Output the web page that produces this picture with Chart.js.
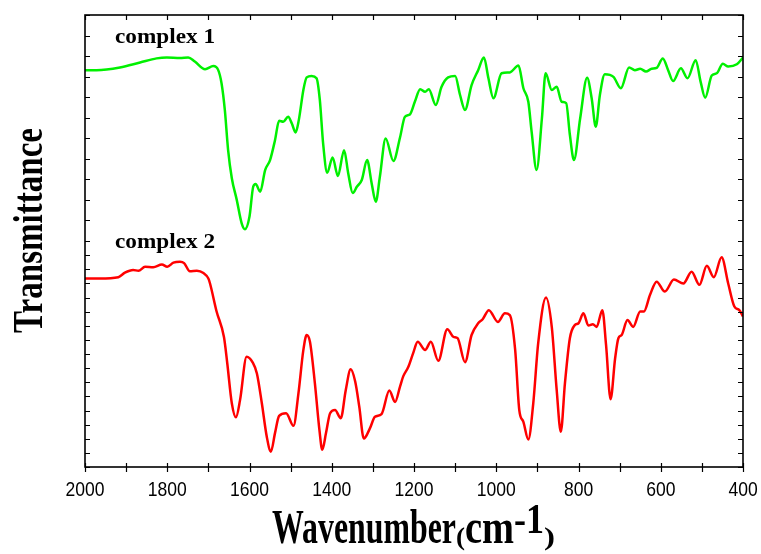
<!DOCTYPE html>
<html><head><meta charset="utf-8">
<script src="https://cdn.jsdelivr.net/npm/chart.js@4.4.1/dist/chart.umd.min.js"></script>
<style>html,body{margin:0;padding:0;background:#fff}#wrap{width:761px;height:554px;position:relative}</style>
</head><body><div id="wrap"><canvas id="c" width="761" height="554"></canvas></div>
<script>
// ---------- data ----------
const seriesNames = ['complex 1', 'complex 2'];

const wnComplex1 = [2000,1972,1915,1866,1826,1801,1769,1749,1733,1708,1688,1676,1668,1660,1652,1643,1631,1619,1611,1600,
  1591,1585,1574,1562,1550,1538,1528,1518,1506,1497,1488,1480,1469,1461,1449,1437,1429,1421,1411,1398,
  1385,1370,1360,1349,1339,1327,1314,1303,1293,1283,1269,1250,1234,1222,1210,1198,1185,1173,1164,1147,
  1133,1117,1100,1088,1076,1060,1044,1030,1019,1007,987,967,946,934,922,914,902,889,880,865,
  853,841,830,821,811,796,779,768,758,748,736,715,697,677,663,650,636,622,610,595,
  582,570,551,535,515,503,492,476,464,449,436,415,400];
const tComplex1 = [87.8,87.8,88.4,89.5,90.4,90.6,90.5,90.6,89.7,88.0,88.7,87.8,84.9,79.0,70.1,63.9,59.1,53.9,52.6,55.4,
  62.0,62.6,60.9,65.7,67.9,72.3,76.6,76.4,77.5,76.0,74.0,76.8,83.4,86.2,86.5,86.0,81.2,71.6,65.1,68.5,
  64.4,70.1,65.0,60.6,62.0,63.5,67.9,62.8,58.7,64.2,72.7,67.7,72.9,77.5,78.0,80.8,83.6,83.0,83.6,80.1,
  84.1,86.2,86.5,82.3,79.0,84.5,87.8,90.6,86.0,81.6,87.1,87.3,88.8,83.8,80.8,74.2,65.7,77.1,87.1,83.4,
  84.1,80.8,80.5,73.5,67.9,77.1,86.1,81.6,75.3,82.3,86.9,86.3,83.8,88.4,87.8,88.1,87.5,88.1,88.3,90.4,
  87.8,85.4,88.2,86.0,90.0,85.2,81.7,86.6,87.1,89.2,88.6,89.1,90.6];

const wnComplex2 = [2000,1964,1919,1903,1883,1870,1854,1834,1813,1800,1785,1769,1759,1745,1728,1712,1700,1696,1680,1662,
  1654,1643,1633,1623,1607,1592,1582,1570,1558,1548,1538,1528,1511,1493,1481,1469,1461,1453,1441,1430,
  1423,1414,1404,1392,1378,1366,1354,1343,1333,1322,1307,1295,1279,1260,1246,1234,1226,1214,1202,1191,
  1173,1159,1141,1119,1104,1094,1076,1060,1044,1033,1018,996,979,967,954,944,934,922,910,898,
  879,865,853,843,833,821,809,800,788,776,765,756,742,733,722,711,703,695,681,667,
  650,641,626,610,590,568,545,525,506,488,471,452,436,421,409,400];
const tComplex2 = [41.7,41.7,42.0,43.0,43.6,43.4,44.3,44.2,44.8,44.3,45.2,45.4,45.1,43.3,43.4,42.9,41.7,40.6,34.4,28.7,
  22.9,14.1,11.0,14.8,24.4,23.1,20.7,14.1,6.7,3.4,7.5,11.3,11.9,9.1,16.3,25.9,29.2,27.7,18.5,8.2,
  3.8,7.5,11.9,12.6,10.8,17.0,21.6,18.9,13.3,6.3,8.6,11.1,11.7,16.9,14.4,17.8,20.1,22.1,25.2,27.7,
  25.9,27.7,23.5,30.5,28.8,28.5,23.2,29.2,31.8,32.7,34.7,32.1,34.0,33.6,25.9,12.6,10.0,6.1,14.1,27.4,
  37.5,31.0,17.0,7.8,18.5,28.5,31.4,31.8,34.0,31.3,31.6,31.0,34.7,27.0,15.0,24.0,28.5,29.2,32.5,31.0,
  34.4,34.4,38.1,41.0,38.8,41.5,40.6,43.2,40.3,44.5,42.0,46.4,40.6,35.5,34.7,33.3];

const xTickLabels = ['2000','1800','1600','1400','1200','1000','800','600','400'];
const xMinorTicks = [1900,1700,1500,1300,1100,900,700,500];
const yTitle = 'Transmittance';
const xTitleParts = ['Wavenumber', '(', 'cm', '-1', ')'];
const yLowerTickCount = 16;   // lower panel (complex 2) tick intervals
const yUpperTickCount = 11;   // upper panel (complex 1) tick intervals

// ---------- helpers ----------
function pts(xs, ys) { return xs.map((x, i) => ({ x: x, y: ys[i] })); }

function drawFit(ctx, text, x, y, font, sx, align) {
  ctx.save();
  ctx.font = font;
  ctx.translate(x, y);
  ctx.scale(sx, 1);
  ctx.textAlign = align || 'left';
  ctx.fillText(text, 0, 0);
  ctx.restore();
}

const decor = {
  id: 'decor',
  afterDraw(chart) {
    const ctx = chart.ctx;
    const a = chart.chartArea;
    const xs = chart.scales.x, ys = chart.scales.y;
    ctx.save();
    ctx.strokeStyle = '#000';
    ctx.fillStyle = '#000';
    // frame
    ctx.lineWidth = 1.6;
    ctx.strokeRect(a.left, a.top, a.right - a.left, a.bottom - a.top);
    ctx.lineWidth = 1.2;
    // x ticks
    const allX = xTickLabels.map(Number).concat(xMinorTicks);
    ctx.beginPath();
    allX.forEach(v => {
      const p = Math.round(xs.getPixelForValue(v)) + 0.5;
      ctx.moveTo(p, a.top); ctx.lineTo(p, a.top + 5);
      ctx.moveTo(p, a.bottom - 4); ctx.lineTo(p, a.bottom + 5);
    });
    // y ticks
    const yv = [];
    for (let i = 0; i <= yLowerTickCount; i++) yv.push(50 * i / yLowerTickCount);
    for (let i = 1; i <= yUpperTickCount; i++) yv.push(50 + 50 * i / yUpperTickCount);
    yv.forEach(v => {
      const p = Math.round(ys.getPixelForValue(v)) + 0.5;
      ctx.moveTo(a.left, p); ctx.lineTo(a.left + 5, p);
      ctx.moveTo(a.right, p); ctx.lineTo(a.right - 5, p);
    });
    ctx.stroke();

    // x tick labels
    ctx.font = '21px "Liberation Sans", Arial, sans-serif';
    const sxLab = 39 / ctx.measureText('2000').width;
    ctx.textBaseline = 'middle';
    xTickLabels.forEach(l => {
      drawFit(ctx, l, xs.getPixelForValue(Number(l)), 490, ctx.font, sxLab, 'center');
    });

    // x title: pieces with their own target widths
    ctx.textBaseline = 'alphabetic';
    const big = 'bold 48px "Liberation Serif", "Times New Roman", serif';
    const small = 'bold 26px "Liberation Serif", "Times New Roman", serif';
    const sup = 'bold 42px "Liberation Serif", "Times New Roman", serif';
    const fonts = [big, small, big, sup, small];
    const bases = [543, 545, 543, 533, 545];
    const widths = [184, 9, 49, 30, 11];
    let cx = 272;
    xTitleParts.forEach((t, i) => {
      ctx.font = fonts[i];
      const sx = widths[i] / ctx.measureText(t).width;
      drawFit(ctx, t, cx, bases[i], fonts[i], sx, 'left');
      cx += widths[i];
    });

    // y title
    ctx.save();
    const yf = 'bold 43px "Liberation Serif", "Times New Roman", serif';
    ctx.font = yf;
    const sxY = 205 / ctx.measureText(yTitle).width;
    ctx.translate(42, 230.5);
    ctx.rotate(-Math.PI / 2);
    ctx.scale(sxY, 1);
    ctx.textAlign = 'center';
    ctx.fillText(yTitle, 0, 0);
    ctx.restore();

    // series labels
    const lf = 'bold 22px "Liberation Serif", "Times New Roman", serif';
    ctx.font = lf;
    const sxL = 100 / ctx.measureText(seriesNames[0]).width;
    drawFit(ctx, seriesNames[0], 115, 43, lf, sxL, 'left');
    drawFit(ctx, seriesNames[1], 115, 248, lf, sxL, 'left');
    ctx.restore();
  }
};

new Chart(document.getElementById('c'), {
  type: 'line',
  data: {
    datasets: [
      { label: seriesNames[0], data: pts(wnComplex1, tComplex1), borderColor: '#00f000',
        borderWidth: 2.5, pointRadius: 0, fill: false, tension: 0.4, cubicInterpolationMode: 'monotone' },
      { label: seriesNames[1], data: pts(wnComplex2, tComplex2), borderColor: '#ff0000',
        borderWidth: 2.5, pointRadius: 0, fill: false, tension: 0.4, cubicInterpolationMode: 'monotone' }
    ]
  },
  options: {
    responsive: false,
    devicePixelRatio: 1,
    animation: false,
    layout: { padding: { left: 85, right: 18, top: 15, bottom: 87 } },
    plugins: { legend: { display: false }, tooltip: { enabled: false } },
    scales: {
      x: { type: 'linear', min: 400, max: 2000, reverse: true, display: false },
      y: { type: 'linear', min: 0, max: 100, display: false }
    }
  },
  plugins: [decor]
});
</script>
</body></html>
